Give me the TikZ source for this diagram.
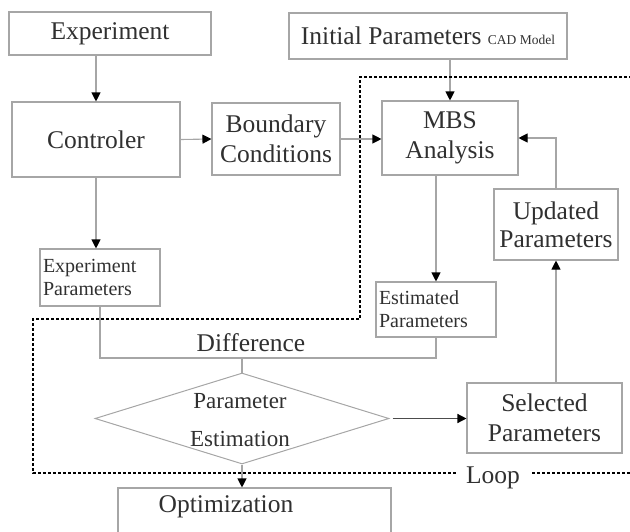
\documentclass[tikz,border=0pt]{standalone}
\usepackage{fontspec}
\setmainfont{Liberation Serif}
\usetikzlibrary{arrows.meta,shapes.geometric}
\definecolor{boxgray}{HTML}{A6A6A6}
\definecolor{txt}{HTML}{303030}
\begin{document}
\begin{tikzpicture}[x=1pt,y=-1pt,
  every node/.style={text=txt},
  box/.style={draw=boxgray,line width=1.1pt,inner sep=0pt,align=center,
    font=\fontsize{25.5}{30}\selectfont},
  small/.style={font=\fontsize{20}{23}\selectfont},
  link/.style={draw=boxgray,line width=1.1pt},
  arr/.style={link,-{Triangle[length=9pt,width=9pt,color=black,fill=black]}},
  loopline/.style={draw=black,line width=1.3pt,dash pattern=on 3pt off 2pt},
  label/.style={inner sep=0pt,font=\fontsize{25.5}{30}\selectfont}]
\useasboundingbox (0,0) rectangle (630,531);

% boxes
\node[box,minimum width=202pt,minimum height=43pt] (exp) at (110,33.5) {Experiment};
\node[box,minimum width=168pt,minimum height=75pt] (ctrl) at (96,139.5) {Controler};
\node[box,minimum width=128pt,minimum height=72pt] (bc) at (276,139) {Boundary\\Conditions};
\node[box,minimum width=278pt,minimum height=46pt] (init) at (428,36)
  {Initial Parameters {\fontsize{13.5}{15}\selectfont CAD Model}};
\node[box,minimum width=136pt,minimum height=74pt] (mbs) at (450,138) {MBS\\Analysis};
\node[box,small,minimum width=120pt,minimum height=57pt,align=left,text width=114pt] (expp) at (100,277.5)
  {Experiment\\Parameters};
\node[box,small,minimum width=120pt,minimum height=55pt,align=left,text width=114pt] (estp) at (436,309.5)
  {Estimated\\Parameters};
\node[box,minimum width=124pt,minimum height=71pt,font=\fontsize{25.5}{28}\selectfont] (upd) at (556,224.5) {Updated\\Parameters};
\node[box,minimum width=155pt,minimum height=70pt] (sel) at (544.5,418) {Selected\\Parameters};
\node[diamond,draw=boxgray,line width=1pt,inner sep=0pt,minimum width=294pt,minimum height=91pt] (dia) at (242,418.5) {};
\node[label,align=center,font=\fontsize{23}{38}\selectfont] (diatext) at (240,420) {Parameter\\Estimation};
\node[box,minimum width=273pt,minimum height=60pt] (opt) at (254.5,518) {};
\node[label] (opttext) at (226,507) {Optimization};

% connectors
\draw[arr] (exp.south -| ctrl.north) -- (ctrl.north);
\draw[arr] (ctrl.east) -- (bc.west);
\draw[arr] (ctrl.south) -- (ctrl.south |- expp.north);
\draw[arr] (bc.east) -- (mbs.west |- bc.east);
\draw[arr] (mbs.north |- init.south) -- (mbs.north);
\draw[arr] (estp.north |- mbs.south) -- (estp.north);

% difference of experiment and estimate
\coordinate (dl) at (0,358);
\draw[link] (expp.south) -- (expp.south |- dl) -- (estp.south |- dl) -- (estp.south);
\node[label] (diff) at (251,343) {Difference};
\draw[link] (dia.north |- dl) -- (dia.north);

\draw[arr,draw=black!70,line width=1.4pt] ([xshift=3pt]dia.east) -- (sel.west |- dia.east);
\draw[arr] (upd.south |- sel.north) -- (upd.south);
\draw[arr] (upd.north) |- (mbs.east);
\draw[arr] (dia.south) -- (dia.south |- opt.north);

% iteration boundary
\coordinate (l1) at (632,77);
\coordinate (l2) at (360,77);
\coordinate (l3) at (360,319);
\coordinate (l4) at (33,319);
\coordinate (l5) at (33,473);
\coordinate (l6) at (456,473);
\coordinate (l7) at (532,473);
\coordinate (l8) at (632,473);
\draw[loopline] (l1) -- (l2) -- (l3) -- (l4) -- (l5) -- (l6);
\draw[loopline] (l7) -- (l8);
\node[label] (loop) at (493,478) {Loop};
\end{tikzpicture}
\end{document}
